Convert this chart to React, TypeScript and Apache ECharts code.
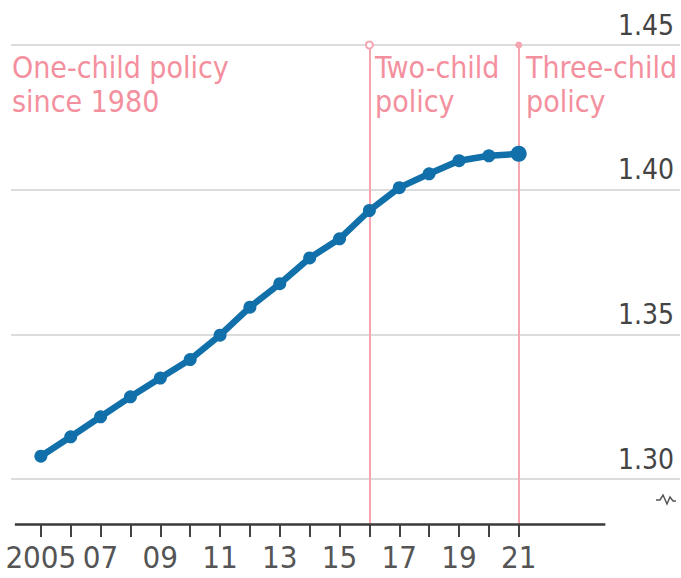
import React, { useEffect, useRef } from "react";
import * as echarts from "echarts";

const years = [2005, 2006, 2007, 2008, 2009, 2010, 2011, 2012, 2013, 2014, 2015, 2016, 2017, 2018, 2019, 2020, 2021];
const population = [1.3079, 1.3146, 1.3215, 1.3284, 1.3349, 1.3413, 1.3497, 1.3594, 1.3675, 1.3764, 1.383, 1.3928, 1.4007, 1.4055, 1.41, 1.4117, 1.4124];
const tickYears = years;
const labelYears = [2005, 2007, 2009, 2011, 2013, 2015, 2017, 2019, 2021];
const yTicks = [1.3, 1.35, 1.4, 1.45];
const policyYears = [2016, 2021];
const policySymbols = ["emptyCircle", "circle"];
const annotations = ["One-child policy\nsince 1980", "Two-child\npolicy", "Three-child\npolicy"];

const FONT = "'DejaVu Sans Condensed', 'Liberation Sans Narrow', sans-serif";
const BLUE = "#1170aa";
const PINK_LINE = "#f6a6b0";
const PINK_TEXT = "#f4909e";

const Y_MIN = 1.28445;
const Y_MAX = 1.45;
const X_MIN = 2004;
const X_MAX = 2026.4;
const AXIS_START = 2004.13;
const AXIS_END = 2023.9;

export default function App() {
  const ref = useRef<HTMLDivElement>(null);
  useEffect(() => {
    document.body.style.margin = "0";
    const chart = echarts.init(ref.current!, null, { renderer: "svg" });
    const lastIdx = years.length - 1;
    chart.setOption({
      animation: false,
      backgroundColor: "#ffffff",
      grid: { left: 11, right: 1, top: 45, bottom: 54, containLabel: false },
      xAxis: {
        type: "value",
        min: X_MIN,
        max: X_MAX,
        axisLine: { show: false },
        splitLine: { show: false },
        axisTick: {
          show: true,
          customValues: tickYears,
          length: 13,
          lineStyle: { color: "#444", width: 2 },
        },
        axisLabel: {
          show: true,
          customValues: labelYears,
          margin: 17,
          fontFamily: FONT,
          fontSize: 31,
          color: "#555",
          formatter: (v: number) => (v === 2005 ? "2005" : String(v).slice(2)),
        },
      },
      yAxis: {
        type: "value",
        min: Y_MIN,
        max: Y_MAX,
        show: false,
        splitLine: { show: false },
      },
      graphic: [
        {
          type: "text",
          left: 12,
          top: 50,
          style: { text: annotations[0], fill: PINK_TEXT, font: `30px ${FONT}`, lineHeight: 34 },
        },
        {
          type: "text",
          left: 375,
          top: 50,
          style: { text: annotations[1], fill: PINK_TEXT, font: `30px ${FONT}`, lineHeight: 34 },
        },
        {
          type: "text",
          left: 526,
          top: 50,
          style: { text: annotations[2], fill: PINK_TEXT, font: `30px ${FONT}`, lineHeight: 34 },
        },
        {
          type: "polyline",
          shape: { points: [[656, 500], [660, 500], [663, 495], [667, 504], [670, 497], [673, 501], [676, 501]] },
          style: { stroke: "#555", lineWidth: 1.5, fill: "none" },
        },
      ],
      series: [
        {
          type: "line",
          z: 3,
          data: years.map((y, i) => ({
            value: [y, population[i]],
            symbolSize: i === lastIdx ? 16 : 13,
          })),
          symbol: "circle",
          symbolSize: 13,
          itemStyle: { color: BLUE },
          lineStyle: { color: BLUE, width: 6.5 },
          markLine: {
            silent: true,
            z: 1,
            symbol: "none",
            animation: false,
            data: [
              ...yTicks.map((v) => ({
                yAxis: v,
                lineStyle: { color: "#d0d0d0", width: 1.5, type: "solid" },
                label: {
                  show: true,
                  position: "insideEndTop",
                  distance: [6, 6],
                  formatter: v.toFixed(2),
                  fontFamily: FONT,
                  fontSize: 28,
                  color: "#444",
                },
              })),
              ...policyYears.map((yr, i) => [
                {
                  coord: [yr, Y_MIN],
                  symbol: "none",
                  lineStyle: { color: PINK_LINE, width: 2, type: "solid" },
                  label: { show: false },
                },
                {
                  coord: [yr, Y_MAX],
                  symbol: policySymbols[i],
                  symbolSize: 7,
                  itemStyle: { color: PINK_LINE, borderColor: PINK_LINE, borderWidth: 1.5 },
                },
              ]),
              [
                {
                  coord: [AXIS_START, Y_MIN],
                  lineStyle: { color: "#3a3a3a", width: 2.5, type: "solid" },
                  label: { show: false },
                },
                { coord: [AXIS_END, Y_MIN] },
              ],
            ],
          },
        },
      ],
    });
    return () => chart.dispose();
  }, []);
  return <div ref={ref} style={{ width: 681, height: 578 }} />;
}
